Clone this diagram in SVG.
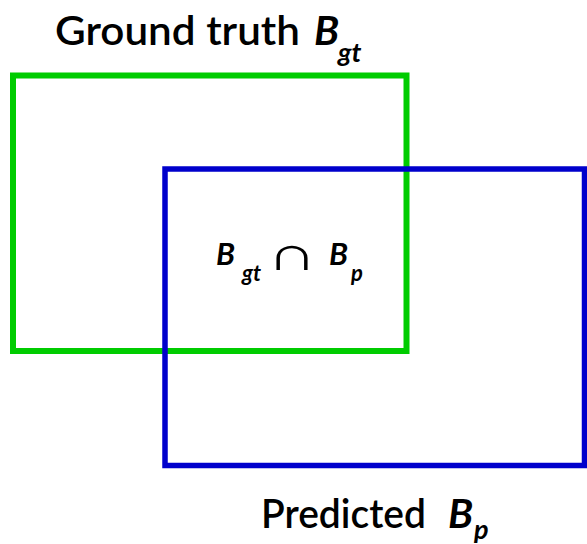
<svg xmlns="http://www.w3.org/2000/svg" width="587" height="544" viewBox="0 0 587 544">
<style>
.lbl{font-family:"Lato","Open Sans","Liberation Sans",sans-serif;font-weight:600;fill:#000}
.it{font-style:italic;font-weight:700}
.op{font-family:"DejaVu Sans","Liberation Sans",sans-serif;font-weight:200;fill:#000}
</style>
<rect width="587" height="544" fill="#fff"/>
<g id="ground-truth">
<rect x="13" y="75.5" width="393.5" height="275.5" fill="none" stroke="#00cc00" stroke-width="6"/>
<text class="lbl" x="55" y="45" font-size="41" textLength="245" lengthAdjust="spacingAndGlyphs">Ground truth</text>
<text class="lbl it" x="314" y="45" font-size="41">B</text>
<text class="lbl it" x="338" y="62" font-size="27">gt</text>
</g>
<g id="predicted">
<rect x="165" y="169" width="419.5" height="296.5" fill="none" stroke="#0000cc" stroke-width="5.5"/>
<text class="lbl" x="261" y="528" font-size="41" textLength="165" lengthAdjust="spacingAndGlyphs">Predicted</text>
<text class="lbl it" x="448" y="528" font-size="41">B</text>
<text class="lbl it" x="474" y="539" font-size="27">p</text>
</g>
<g id="intersection">
<text class="lbl it" x="216" y="265" font-size="31">B</text>
<text class="lbl it" x="242" y="281" font-size="22">gt</text>
<text class="op" transform="translate(267,270) scale(1.45,1)" font-size="48">∩</text>
<text class="lbl it" x="329" y="265" font-size="31">B</text>
<text class="lbl it" x="351" y="281" font-size="22">p</text>
</g>
</svg>
